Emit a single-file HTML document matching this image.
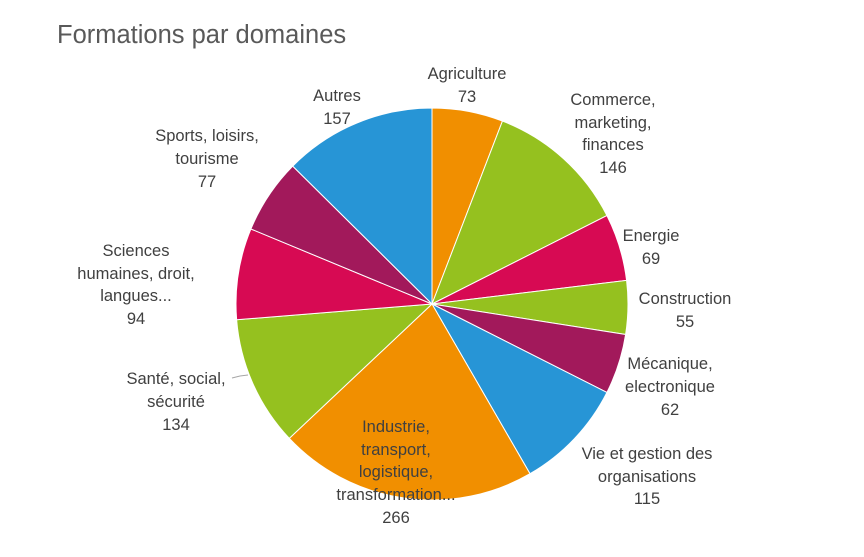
<!DOCTYPE html>
<html><head><meta charset="utf-8"><style>
body{margin:0;background:#fff;}
svg text{font-family:"Liberation Sans",sans-serif;fill:#404040;font-size:16.5px;}
</style></head><body>
<svg id="s" width="864" height="552" xmlns="http://www.w3.org/2000/svg">
<rect width="864" height="552" fill="#fff"/>
<text x="57" y="43" style="font-size:25.5px;fill:#595959">Formations par domaines</text>
<g id="pie"></g>
<path d="M232 378 L240 376 L248 375" stroke="#a6a6a6" fill="none"/>
<g text-anchor="middle">
<text x="467" y="79">Agriculture</text><text x="467" y="102">73</text>
<text x="613" y="105">Commerce,</text><text x="613" y="128">marketing,</text><text x="613" y="150">finances</text><text x="613" y="173">146</text>
<text x="651" y="241">Energie</text><text x="651" y="264">69</text>
<text x="685" y="304">Construction</text><text x="685" y="327">55</text>
<text x="670" y="369">Mécanique,</text><text x="670" y="392">electronique</text><text x="670" y="415">62</text>
<text x="647" y="459">Vie et gestion des</text><text x="647" y="482">organisations</text><text x="647" y="504">115</text>
<text x="396" y="432">Industrie,</text><text x="396" y="455">transport,</text><text x="396" y="477">logistique,</text><text x="396" y="500">transformation...</text><text x="396" y="523">266</text>
<text x="176" y="384">Santé, social,</text><text x="176" y="407">sécurité</text><text x="176" y="430">134</text>
<text x="136" y="256">Sciences</text><text x="136" y="279">humaines, droit,</text><text x="136" y="301">langues...</text><text x="136" y="324">94</text>
<text x="207" y="141">Sports, loisirs,</text><text x="207" y="164">tourisme</text><text x="207" y="187">77</text>
<text x="337" y="101">Autres</text><text x="337" y="124">157</text>
</g>
</svg>
<script>
var v=[73,146,69,55,62,115,266,134,94,77,157];
var c=["#F18F00","#95C11F","#D70A53","#95C11F","#A2195B","#2795D6","#F18F00","#95C11F","#D70A53","#A2195B","#2795D6"];
var t=v.reduce(function(a,b){return a+b},0),cx=432,cy=304,r=196,a=0,h="";
for(var i=0;i<v.length;i++){
var a0=a,a1=a+v[i]/t*2*Math.PI;a=a1;
var x0=cx+r*Math.sin(a0),y0=cy-r*Math.cos(a0),x1=cx+r*Math.sin(a1),y1=cy-r*Math.cos(a1);
h+='<path d="M'+cx+' '+cy+' L'+x0+' '+y0+' A'+r+' '+r+' 0 '+((a1-a0)>Math.PI?1:0)+' 1 '+x1+' '+y1+' Z" fill="'+c[i]+'" stroke="#fff" stroke-width="1"/>';
}
document.getElementById("pie").innerHTML=h;
</script>
</body></html>
